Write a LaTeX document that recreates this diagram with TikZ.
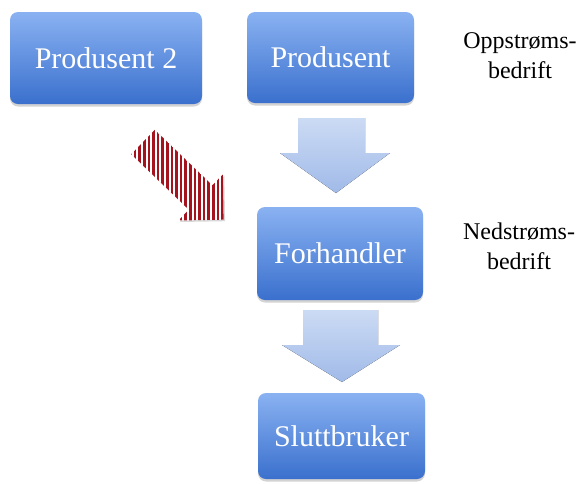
\documentclass[tikz,border=0pt]{standalone}
\usepackage{fontspec}
\setmainfont{Liberation Serif}
\newfontfamily\timesf{Liberation Serif}
\usetikzlibrary{shadows,calc}
\definecolor{boxtop}{RGB}{138,178,242}
\definecolor{boxbot}{RGB}{58,112,205}
\definecolor{arrtop}{RGB}{204,219,244}
\definecolor{arrbot}{RGB}{160,186,232}
\definecolor{stripe}{RGB}{165,20,30}
\newcommand{\boxtxt}[1]{\raisebox{-3pt}{#1}}
\tikzset{
  bluebox/.style={rectangle, rounded corners=8pt, top color=boxtop, bottom color=boxbot,
    draw=none, text=white, font=\timesf\fontsize{30}{32}\selectfont,
    drop shadow={opacity=0.35, shadow xshift=0pt, shadow yshift=-2.5pt}},
  blockarrow/.style={top color=arrtop, bottom color=arrbot, draw=none},
  lbl/.style={align=center, font=\timesf\fontsize{24}{30}\selectfont, text=black}
}
\begin{document}
\begin{tikzpicture}[x=1pt,y=-1pt]
\useasboundingbox (0,0) rectangle (580,483);
% boxes
\node[bluebox, minimum width=192pt, minimum height=92pt] (p2) at (106,58) {\boxtxt{Produsent 2}};
\node[bluebox, minimum width=167pt, minimum height=91pt] (p) at (330.5,57.5) {\boxtxt{Produsent}};
\node[bluebox, minimum width=166pt, minimum height=93pt] (f) at (340,253.5) {\boxtxt{Forhandler}};
\node[bluebox, minimum width=167pt, minimum height=86pt] (s) at (341.5,436) {\boxtxt{Sluttbruker}};
% labels
\node[lbl] (l1) at (520,56) {Oppstrøms-\\bedrift};
\node[lbl] (l2) at (519,246) {Nedstrøms-\\bedrift};
% block arrows
\fill[blockarrow] (298,118) -- (365,118) -- (365,153) -- (390,153) -- (336,193) -- (280,153) -- (298,153) -- cycle;
\fill[blockarrow] (303,310) -- (378,310) -- (378,345) -- (400,345) -- (342,382) -- (282,345) -- (303,345) -- cycle;
% striped arrow
\def\sarrow{(131.2,154.2) -- (154.8,129.8) -- (212.4,185.3) -- (222.8,174.5) -- (223.6,219.7) -- (178.4,220.5) -- (188.8,209.7) -- cycle}
\fill[black!30, opacity=0.5, xshift=1.5pt, yshift=-1.5pt] \sarrow;
\begin{scope}
\clip \sarrow;
\fill[white] (125,125) rectangle (230,225);
\foreach \x in {130.5,135.1,...,228} {
  \draw[stripe, line width=2.5pt] (\x,125) -- (\x,225);
}
\end{scope}
\end{tikzpicture}
\end{document}
